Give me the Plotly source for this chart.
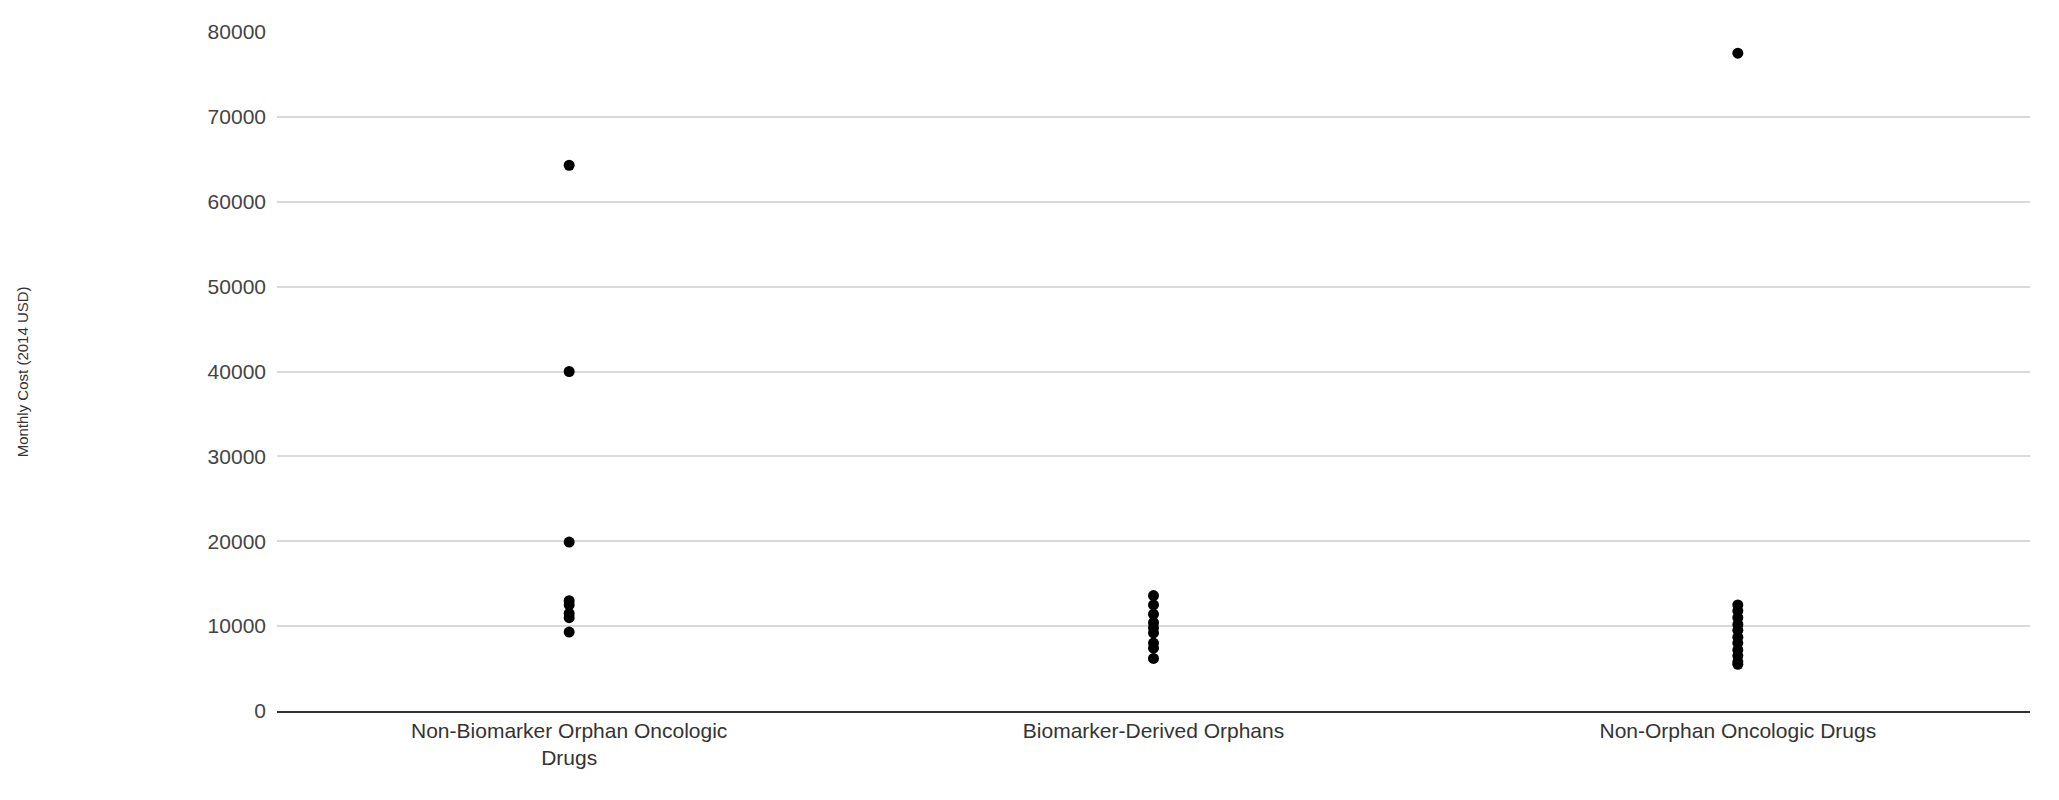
import plotly.graph_objects as go

categories = ["Non-Biomarker Orphan Oncologic<br>Drugs", "Biomarker-Derived Orphans", "Non-Orphan Oncologic Drugs"]
non_biomarker = [64300, 40000, 19900, 13000, 12500, 11500, 11000, 9300]
biomarker = [13600, 12500, 11400, 10400, 9800, 9200, 8000, 7400, 6200]
non_orphan = [77500, 12500, 11800, 11000, 10200, 9500, 8700, 8000, 7200, 6500, 5800, 5500]

xs, ys = [], []
for cat, vals in zip(categories, [non_biomarker, biomarker, non_orphan]):
    xs += [cat] * len(vals)
    ys += vals

fig = go.Figure(go.Scatter(x=xs, y=ys, mode="markers",
                           marker=dict(color="black", size=11)))
fig.update_layout(
    width=2059, height=800, plot_bgcolor="white", paper_bgcolor="white",
    margin=dict(l=269, r=37, t=13, b=97), showlegend=False,
    font=dict(family="Liberation Sans, Arial", color="#444"),
)
fig.update_xaxes(type="category", range=[-0.5, 2.5], tickfont=dict(size=21, color="#333"),
                 showgrid=False, showline=True, linecolor="#333", linewidth=1.5, ticks="")
fig.update_yaxes(range=[0, 80000], dtick=10000, tickformat="d", gridcolor="#d9d9d9", gridwidth=1.5,
                 tickfont=dict(size=21, color="#444"), zeroline=False, ticklabelstandoff=10)
fig.add_annotation(text="Monthly Cost (2014 USD)", xref="paper", yref="paper",
                   x=-0.145, y=0.5, xanchor="center", yanchor="middle", textangle=-90,
                   showarrow=False, font=dict(size=15, color="#333"))
fig.write_html("out.html")
